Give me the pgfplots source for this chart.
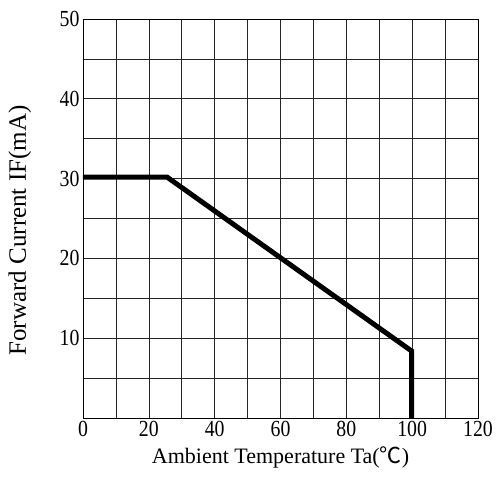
\documentclass[border=0pt]{standalone}
\usepackage{fontspec}
\setmainfont{Liberation Serif}
\newfontfamily\cjk{Noto Sans CJK SC}
\newfontfamily\tickfont[FakeStretch=0.86]{Liberation Serif}
\usepackage{pgfplots}
\pgfplotsset{compat=1.18}
\begin{document}
\begin{tikzpicture}
\begin{axis}[
  name=ax,
  scale only axis, width=395pt, height=399pt,
  xmin=0, xmax=120, ymin=0, ymax=50,
  xtick={0,20,40,60,80,100,120}, ytick={10,20,30,40,50},
  xticklabels={0,20,40,60,80,100,120},
  yticklabels={10,20,30,40,50},
  minor xtick={10,30,...,110}, minor ytick={5,15,...,45},
  grid=both,
  major grid style={black!85, line width=0.6pt},
  minor grid style={black!85, line width=0.6pt},
  tick style={draw=none},
  axis line style={black, line width=0.8pt},
  tick label style={font=\tickfont\fontsize{23}{26}\selectfont},
  xlabel={Ambient Temperature Ta({\cjk ℃})},
  ylabel={Forward Current IF(mA)},
  xlabel style={font=\rmfamily\fontsize{22}{26}\selectfont, at={(axis description cs:0.5,-0.1)}, anchor=center},
  ylabel style={font=\rmfamily\fontsize{25}{28}\selectfont, at={(axis description cs:-0.16,0.47)}, anchor=center},
]
\addplot[black, line width=5pt, line join=miter] coordinates {(0,30.2) (25.5,30.2) (99.8,8.4) (99.8,0)};
\end{axis}
\pgfresetboundingbox
\path (ax.south west) ++(-83pt,-70pt) rectangle (ax.north east);
\path (ax.north east) ++(21pt,19pt);
\end{tikzpicture}
\end{document}
